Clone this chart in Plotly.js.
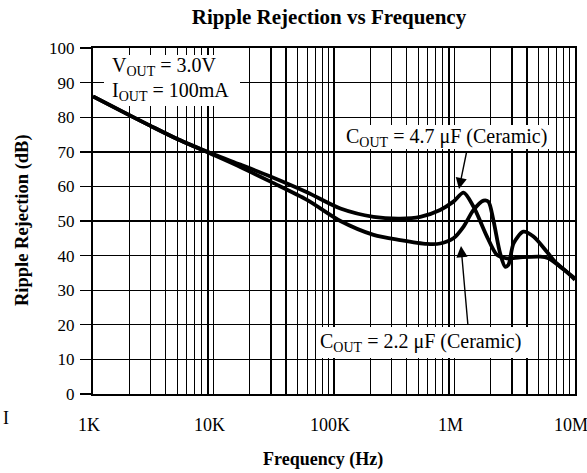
<!DOCTYPE html>
<html>
<head>
<meta charset="utf-8">
<script src="https://cdn.plot.ly/plotly-3.0.1.min.js"></script>
<style>html,body{margin:0;padding:0;background:#fff;}#chart{width:587px;height:473px;}</style>
</head>
<body>
<div id="chart"></div>
<script>
// ---- data ----
var freq47 = [1e3, 2e3, 3e3, 5e3, 1e4, 1.67e4, 3e4, 5.97e4, 1.13e5, 2.13e5, 3.55e5, 5.2e5, 7.6e5, 9.8e5, 1.19e6, 1.44e6, 1.86e6, 2.25e6, 2.72e6, 3.51e6, 5.14e6, 6.02e6, 7.52e6, 1e7];
var rr47   = [86, 80.6, 77.5, 73.7, 69.3, 66.3, 62.8, 58.3, 53.6, 51.2, 50.7, 51.2, 53.2, 55.6, 58.2, 54.1, 45.5, 40.2, 39.2, 39.5, 39.7, 39.2, 36.8, 33.4];
var freq22 = [1e3, 2e3, 3e3, 5e3, 1e4, 1.67e4, 3e4, 5.97e4, 1.13e5, 2.13e5, 3.55e5, 5.9e5, 7.6e5, 9.8e5, 1.19e6, 1.44e6, 1.74e6, 1.91e6, 2.10e6, 2.39e6, 2.63e6, 2.80e6, 3.09e6, 3.73e6, 4.52e6, 5.84e6, 6.84e6, 8.55e6, 1e7];
var rr22   = [86, 80.6, 77.5, 73.7, 69.1, 65.6, 61.3, 56.1, 50.0, 46.0, 44.5, 43.4, 43.5, 45.0, 48.4, 53.2, 55.9, 55.6, 50.3, 40.7, 36.8, 37.3, 43.5, 46.9, 45.5, 41.1, 38.2, 35.3, 33.0];
var xTickVals = [1e3, 1e4, 1e5, 1e6, 1e7];
var xTickText = ['1K', '10K', '100K', '1M', '10M'];
var yTickVals = [0, 10, 20, 30, 40, 50, 60, 70, 80, 90, 100];
var labels = {
  title: 'Ripple Rejection vs Frequency',
  xTitle: 'Frequency (Hz)',
  yTitle: 'Ripple Rejection (dB)',
  vout: 'V<sub>OUT</sub> = 3.0V',
  iout: 'I<sub>OUT</sub> = 100mA',
  c47: 'C<sub>OUT</sub> = 4.7 μF (Ceramic)',
  c22: 'C<sub>OUT</sub> = 2.2 μF (Ceramic)',
  stray: 'I'
};

// ---- layout helpers ----
var W = 587, H = 473, L = 93, R = 12, T = 48, B = 79;
function px(x) { return (x - L) / (W - L - R); }
function py(y) { return (H - B - y) / (H - T - B); }
var minorVals = [];
for (var d = 3; d < 7; d++) for (var k = 2; k <= 9; k++) minorVals.push(k * Math.pow(10, d));

var FONT = 'Liberation Serif, Times New Roman, serif';

var traces = [
  {x: freq47, y: rr47, type: 'scatter', mode: 'lines', line: {color: '#000', width: 3.8, shape: 'spline', smoothing: 0.8}, hoverinfo: 'skip'},
  {x: freq22, y: rr22, type: 'scatter', mode: 'lines', line: {color: '#000', width: 3.8, shape: 'spline', smoothing: 0.8}, hoverinfo: 'skip'}
];

function poly(pts) {
  var s = '';
  for (var i = 0; i < pts.length; i++) s += (i ? ' L ' : 'M ') + px(pts[i][0]).toFixed(5) + ',' + py(pts[i][1]).toFixed(5);
  return {type: 'path', xref: 'paper', yref: 'paper', path: s + ' Z', fillcolor: '#fff', line: {width: 0}, layer: 'above'};
}
function txt(t, x, y, size, opts) {
  var a = {text: t, xref: 'paper', yref: 'paper', x: px(x), y: py(y), xanchor: 'left', yanchor: 'middle',
           showarrow: false, font: {family: FONT, size: size, color: '#000'}};
  for (var k in (opts || {})) a[k] = opts[k];
  return a;
}
function arrow(tipX, tipY, tailX, tailY) {
  return {text: '', xref: 'paper', yref: 'paper', x: px(tipX), y: py(tipY), ax: tailX - tipX, ay: tailY - tipY,
          showarrow: true, arrowhead: 2, arrowsize: 1.6, arrowwidth: 1.4, arrowcolor: '#000'};
}

var layout = {
  width: W, height: H,
  margin: {l: L, r: R, t: T, b: B, pad: 0},
  paper_bgcolor: '#fff', plot_bgcolor: '#fff',
  showlegend: false,
  font: {family: FONT, color: '#000', size: 17},
  title: {text: '<b>' + labels.title + '</b>', font: {family: FONT, size: 21, color: '#000'},
          xref: 'container', yref: 'container', x: 329 / W, y: 1 - 17 / H, xanchor: 'center', yanchor: 'middle'},
  xaxis: {type: 'log', range: [3, 7], tickvals: xTickVals, ticktext: xTickText, ticks: '',
          showgrid: true, gridcolor: '#000', gridwidth: 1.8,
          minor: {tickvals: minorVals, showgrid: true, gridcolor: '#000', gridwidth: 1.3, ticks: ''},
          showline: true, linecolor: '#000', linewidth: 2, mirror: true, zeroline: false,
          tickfont: {family: FONT, size: 18, color: '#000'}, ticklabelstandoff: 13,
          ticklabeloverflow: 'allow', ticklabelshift: -4},
  yaxis: {range: [0, 100], tickvals: yTickVals, ticks: 'outside', ticklen: 11, tickwidth: 1.4, tickcolor: '#000',
          showgrid: true, gridcolor: '#000', gridwidth: 1.4,
          showline: true, linecolor: '#000', linewidth: 2, mirror: true, zeroline: false,
          tickfont: {family: FONT, size: 17, color: '#000'}, ticklabelstandoff: 2},
  shapes: [
    poly([[104, 55], [240, 55], [240, 106], [119, 106], [104, 97]]),
    poly([[342, 125], [553, 125], [553, 149], [342, 149]]),
    poly([[318, 327], [529, 327], [529, 358], [318, 358]])
  ],
  annotations: [
    txt(labels.vout, 110, 66, 20),
    txt(labels.iout, 110, 91, 20),
    txt(labels.c47, 344, 137, 20),
    txt(labels.c22, 318, 342, 20),
    arrow(459, 189, 467, 150),
    arrow(461, 246, 468, 326),
    txt('<b>' + labels.xTitle + '</b>', 323, 459, 18, {xanchor: 'center'}),
    txt('<b>' + labels.yTitle + '</b>', 22, 220, 18.5, {xanchor: 'center', textangle: -90}),
    txt(labels.stray, 1, 418, 18)
  ]
};

Plotly.newPlot('chart', traces, layout, {displayModeBar: false, staticPlot: true});
</script>
</body>
</html>
